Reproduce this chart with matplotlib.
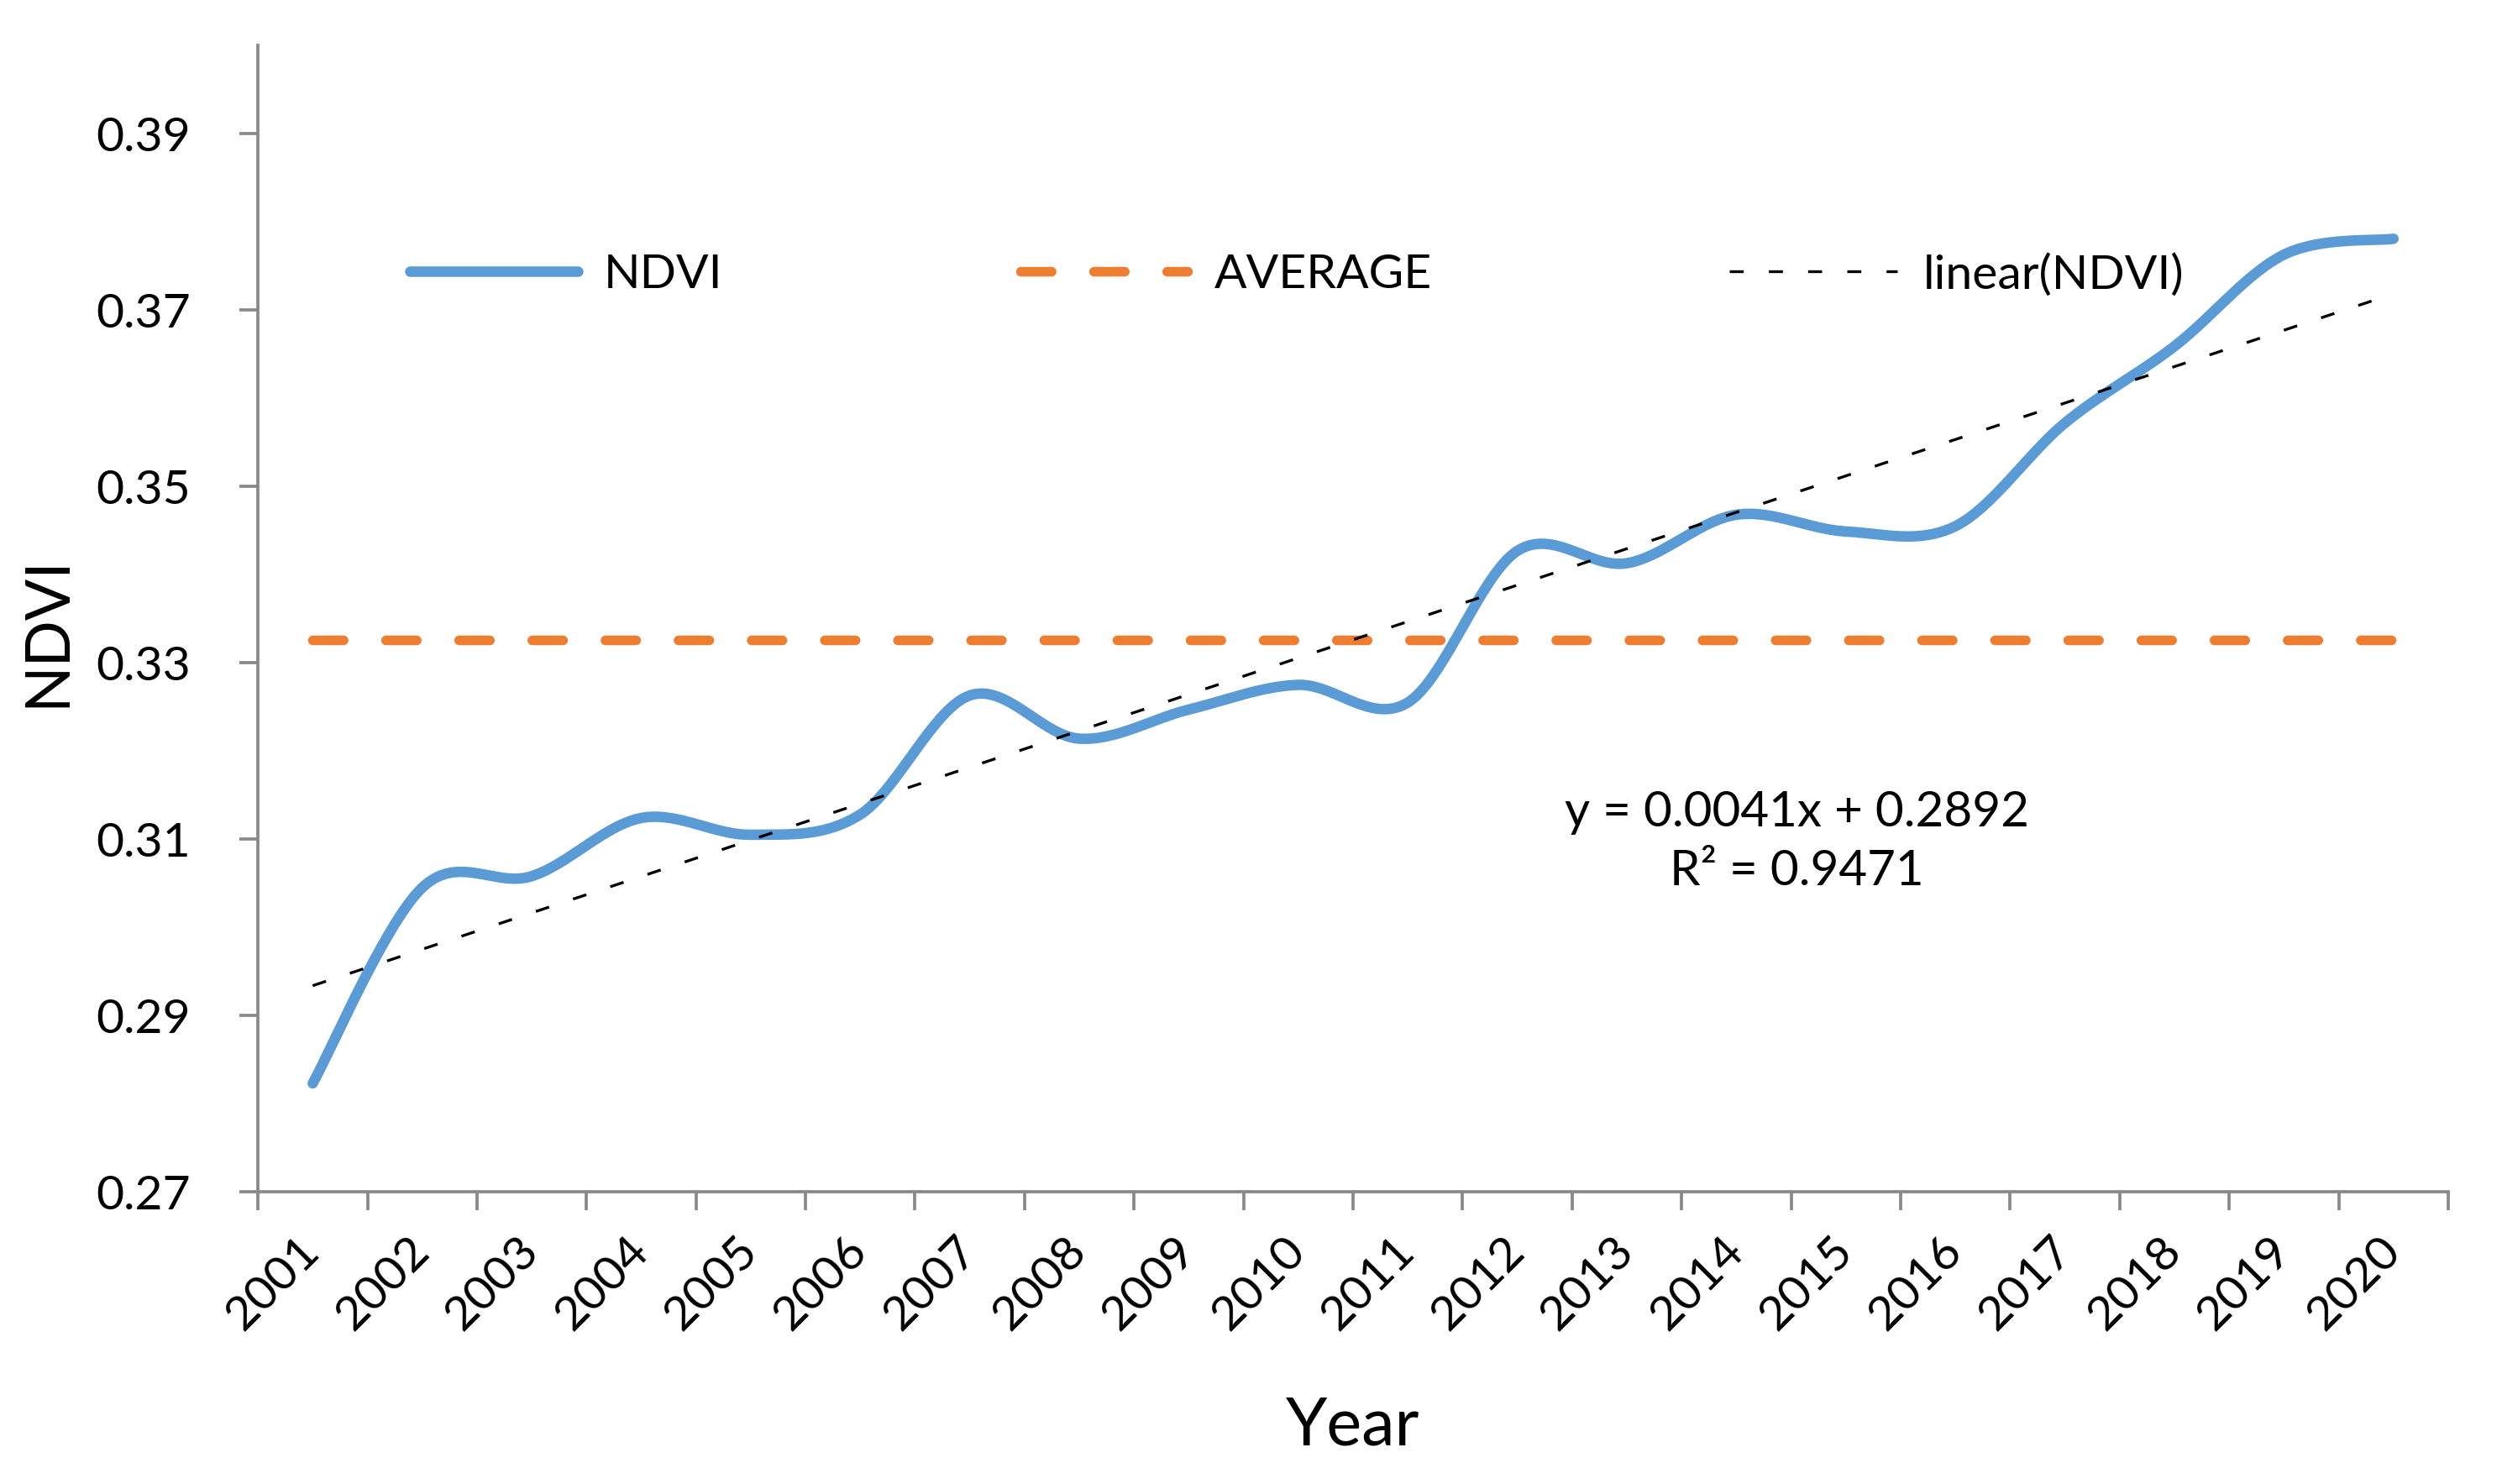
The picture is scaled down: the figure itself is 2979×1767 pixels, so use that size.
import numpy as np
import matplotlib
matplotlib.use('Agg')
import matplotlib.pyplot as plt
from matplotlib.lines import Line2D

plt.rcParams['font.family'] = ['Lato', 'DejaVu Sans']

# NDVI yearly values
years = list(range(2001, 2021))
ndvi = [0.2823, 0.3045, 0.3058, 0.3124, 0.3105, 0.3128, 0.3263, 0.3214,
        0.3247, 0.3275, 0.3255, 0.3427, 0.3413, 0.3468, 0.3449, 0.3455,
        0.3572, 0.3659, 0.3763, 0.3781]
eq_text = "y = 0.0041x + 0.2892\nR\u00b2 = 0.9471"

BLUE = '#5B9BD5'
ORANGE = '#ED7D31'
GREY = '#898989'


def smooth_line(x, y, n=40):
    """Excel-like smoothed line (Catmull-Rom as cubic Bezier)."""
    x = np.asarray(x, float)
    y = np.asarray(y, float)
    px = np.concatenate([[x[0]], x, [x[-1]]])
    py = np.concatenate([[y[0]], y, [y[-1]]])
    xs, ys = [], []
    t = np.linspace(0, 1, n)
    for i in range(1, len(px) - 2):
        p0 = np.array([px[i], py[i]])
        p3 = np.array([px[i + 1], py[i + 1]])
        c1 = p0 + (np.array([px[i + 1], py[i + 1]]) - np.array([px[i - 1], py[i - 1]])) / 6
        c2 = p3 - (np.array([px[i + 2], py[i + 2]]) - np.array([px[i], py[i]])) / 6
        b = ((1 - t) ** 3)[:, None] * p0 + (3 * (1 - t) ** 2 * t)[:, None] * c1 \
            + (3 * (1 - t) * t ** 2)[:, None] * c2 + (t ** 3)[:, None] * p3
        xs.append(b[:, 0])
        ys.append(b[:, 1])
    return np.concatenate(xs), np.concatenate(ys)


xpos = np.arange(1, len(years) + 1)
avg = np.mean(ndvi)
slope, intercept = np.polyfit(xpos, ndvi, 1)

fig = plt.figure(figsize=(2979 / 300, 1767 / 300), dpi=300)
ax = fig.add_axes([0.1031, 0.1969, 0.8754, 0.7723])

sx, sy = smooth_line(xpos, ndvi)
ax.plot(sx, sy, color=BLUE, lw=3.0, solid_capstyle='round', zorder=3)
ax.plot([xpos[0], xpos[-1]], [avg, avg], color=ORANGE, lw=2.75,
        dashes=(3.2, 4.4), dash_capstyle='round', zorder=2)
ax.plot(xpos, slope * xpos + intercept, color='black', lw=0.8,
        dashes=(5, 9), zorder=4)

ax.set_xlim(0.5, len(years) + 0.5)
ax.set_ylim(0.27, 0.40)
ax.set_yticks(np.arange(0.27, 0.391, 0.02))
ax.set_yticklabels([f'{v:.2f}' for v in np.arange(0.27, 0.391, 0.02)])

ax.set_xticks(np.arange(0.5, len(years) + 0.6, 1))
ax.set_xticklabels([])
ax.set_xticks(xpos, minor=True)
ax.set_xticklabels([str(y) for y in years], minor=True)

for s in ['top', 'right']:
    ax.spines[s].set_visible(False)
for s in ['left', 'bottom']:
    ax.spines[s].set_color(GREY)
    ax.spines[s].set_linewidth(0.9)

ax.tick_params(axis='both', which='major', direction='out', length=5.3,
               width=0.9, color=GREY, labelsize=13.7)
ax.tick_params(axis='y', which='major', pad=14)
ax.tick_params(axis='x', which='minor', length=0, pad=15, labelsize=13.7)
for lab in ax.get_xticklabels(minor=True):
    lab.set_rotation(45)
    lab.set_ha('right')
    lab.set_va('center')
    lab.set_rotation_mode('anchor')

ax.set_ylabel('NDVI', fontsize=17.5)
ax.yaxis.set_label_coords(-0.0832, 0.489)
ax.set_xlabel('Year', fontsize=19, va='center')
ax.xaxis.set_label_coords(0.5, -0.2045)

ax.text(0.7025, 0.305, eq_text, transform=ax.transAxes, ha='center',
        va='center', fontsize=14, linespacing=1.4)

handles = [
    Line2D([], [], color=BLUE, lw=3.0, solid_capstyle='round'),
    Line2D([], [], color=ORANGE, lw=2.75, dashes=(3.2, 4.4), dash_capstyle='round'),
    Line2D([], [], color='black', lw=0.8, dashes=(5, 9)),
]
ax.legend(handles, ['NDVI', 'AVERAGE', 'linear(NDVI)'], ncol=3, loc='center',
          bbox_to_anchor=(0.4744, 0.800), frameon=False, fontsize=13.7,
          handlelength=3.5, handletextpad=0.55, columnspacing=6.2)

fig.savefig('out.png', dpi=300)
